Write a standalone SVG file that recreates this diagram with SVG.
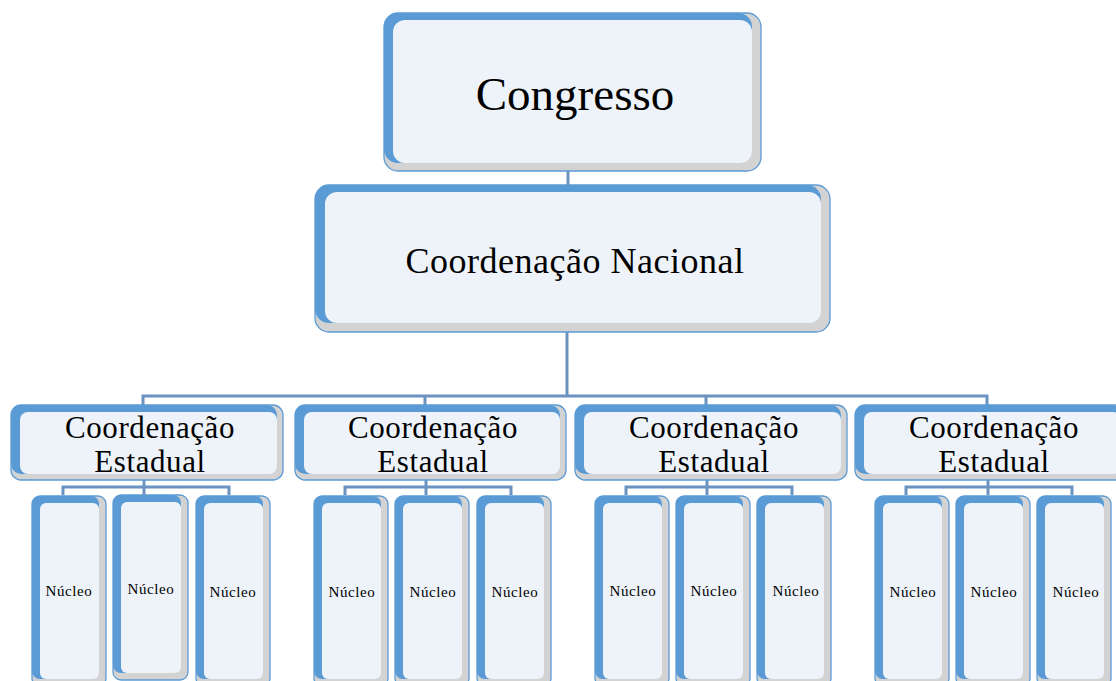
<svg xmlns="http://www.w3.org/2000/svg" width="1116" height="681" viewBox="0 0 1116 681">
<style>
.sh{fill:#D3D3D3;stroke:#5B9BD5;stroke-width:1.3}
.bl{fill:#5B9BD5}
.in{fill:#EEF3FA}
.t{font-family:"Liberation Serif","Times New Roman",serif;fill:#000;text-anchor:middle}
.big{font-size:47px}
.nac{font-size:36px;letter-spacing:0.5px}
.est{font-size:31px;letter-spacing:0.6px}
.nuc{font-size:15px;letter-spacing:0.6px}
.c{fill:none;stroke:#6A93C2;stroke-width:3}
</style>
<rect width="1116" height="681" fill="#fff"/>
<g id="connectors">
<path class="c" d="M568,171 V185"/>
<path class="c" d="M567,332 V396 M143,406 V396 H987 V406 M425,396 V406 M706,396 V406"/>
<path class="c" d="M63,495 V487 H229 V495 M144,480 V495"/>
<path class="c" d="M345,495 V487 H511 V495 M426,480 V495"/>
<path class="c" d="M626,495 V487 H792 V495 M707,480 V495"/>
<path class="c" d="M906,495 V487 H1072 V495 M988,480 V495"/>
</g>
<g id="congresso">
<rect class="sh" x="384" y="13" width="377" height="158" rx="14"/>
<rect class="bl" x="384" y="13" width="368" height="150" rx="14"/>
<rect class="in" x="393" y="20" width="359" height="143" rx="12"/>
<text class="t big" x="575" y="110">Congresso</text>
</g>
<g id="nacional">
<rect class="sh" x="315" y="185" width="515" height="147" rx="14"/>
<rect class="bl" x="315" y="185" width="506" height="138" rx="14"/>
<rect class="in" x="325" y="192" width="496" height="131" rx="12"/>
<text class="t nac" x="575" y="273">Coordenação Nacional</text>
</g>
<g id="estadual1">
<rect class="sh" x="11" y="405" width="272" height="75" rx="10"/>
<rect class="bl" x="11" y="405" width="266" height="69" rx="10"/>
<rect class="in" x="20" y="412" width="257" height="62" rx="8"/>
<text class="t est" x="150" y="438">Coordenação</text>
<text class="t est" x="150" y="472">Estadual</text>
</g>
<g id="estadual2">
<rect class="sh" x="295" y="405" width="271" height="75" rx="10"/>
<rect class="bl" x="295" y="405" width="265" height="69" rx="10"/>
<rect class="in" x="304" y="412" width="256" height="62" rx="8"/>
<text class="t est" x="433" y="438">Coordenação</text>
<text class="t est" x="433" y="472">Estadual</text>
</g>
<g id="estadual3">
<rect class="sh" x="575" y="405" width="272" height="75" rx="10"/>
<rect class="bl" x="575" y="405" width="266" height="69" rx="10"/>
<rect class="in" x="584" y="412" width="257" height="62" rx="8"/>
<text class="t est" x="714" y="438">Coordenação</text>
<text class="t est" x="714" y="472">Estadual</text>
</g>
<g id="estadual4">
<rect class="sh" x="855" y="405" width="272" height="75" rx="10"/>
<rect class="bl" x="855" y="405" width="266" height="69" rx="10"/>
<rect class="in" x="864" y="412" width="257" height="62" rx="8"/>
<text class="t est" x="994" y="438">Coordenação</text>
<text class="t est" x="994" y="472">Estadual</text>
</g>
<g id="nucleo1-1"><rect class="sh" x="32" y="496" width="74" height="190" rx="8"/><rect class="bl" x="32" y="496" width="67" height="183" rx="8"/><rect class="in" x="40" y="503" width="59" height="176" rx="6"/><text class="t nuc" x="69" y="596">Núcleo</text></g>
<g id="nucleo1-2"><rect class="sh" x="113" y="495" width="75" height="185" rx="8"/><rect class="bl" x="113" y="495" width="68" height="178" rx="8"/><rect class="in" x="121" y="502" width="60" height="171" rx="6"/><text class="t nuc" x="151" y="594">Núcleo</text></g>
<g id="nucleo1-3"><rect class="sh" x="196" y="496" width="74" height="190" rx="8"/><rect class="bl" x="196" y="496" width="67" height="183" rx="8"/><rect class="in" x="204" y="503" width="59" height="176" rx="6"/><text class="t nuc" x="233" y="597">Núcleo</text></g>
<g id="nucleo2-1"><rect class="sh" x="314" y="496" width="74" height="190" rx="8"/><rect class="bl" x="314" y="496" width="67" height="183" rx="8"/><rect class="in" x="322" y="503" width="59" height="176" rx="6"/><text class="t nuc" x="352" y="597">Núcleo</text></g>
<g id="nucleo2-2"><rect class="sh" x="395" y="496" width="74" height="190" rx="8"/><rect class="bl" x="395" y="496" width="67" height="183" rx="8"/><rect class="in" x="403" y="503" width="59" height="176" rx="6"/><text class="t nuc" x="433" y="597">Núcleo</text></g>
<g id="nucleo2-3"><rect class="sh" x="477" y="496" width="74" height="190" rx="8"/><rect class="bl" x="477" y="496" width="67" height="183" rx="8"/><rect class="in" x="485" y="503" width="59" height="176" rx="6"/><text class="t nuc" x="515" y="597">Núcleo</text></g>
<g id="nucleo3-1"><rect class="sh" x="595" y="496" width="74" height="190" rx="8"/><rect class="bl" x="595" y="496" width="67" height="183" rx="8"/><rect class="in" x="603" y="503" width="59" height="176" rx="6"/><text class="t nuc" x="633" y="596">Núcleo</text></g>
<g id="nucleo3-2"><rect class="sh" x="676" y="496" width="74" height="190" rx="8"/><rect class="bl" x="676" y="496" width="67" height="183" rx="8"/><rect class="in" x="684" y="503" width="59" height="176" rx="6"/><text class="t nuc" x="714" y="596">Núcleo</text></g>
<g id="nucleo3-3"><rect class="sh" x="757" y="496" width="74" height="190" rx="8"/><rect class="bl" x="757" y="496" width="67" height="183" rx="8"/><rect class="in" x="765" y="503" width="59" height="176" rx="6"/><text class="t nuc" x="796" y="596">Núcleo</text></g>
<g id="nucleo4-1"><rect class="sh" x="875" y="496" width="74" height="190" rx="8"/><rect class="bl" x="875" y="496" width="67" height="183" rx="8"/><rect class="in" x="883" y="503" width="59" height="176" rx="6"/><text class="t nuc" x="913" y="597">Núcleo</text></g>
<g id="nucleo4-2"><rect class="sh" x="956" y="496" width="74" height="190" rx="8"/><rect class="bl" x="956" y="496" width="67" height="183" rx="8"/><rect class="in" x="964" y="503" width="59" height="176" rx="6"/><text class="t nuc" x="994" y="597">Núcleo</text></g>
<g id="nucleo4-3"><rect class="sh" x="1037" y="496" width="74" height="190" rx="8"/><rect class="bl" x="1037" y="496" width="67" height="183" rx="8"/><rect class="in" x="1045" y="503" width="59" height="176" rx="6"/><text class="t nuc" x="1076" y="597">Núcleo</text></g>
</svg>
